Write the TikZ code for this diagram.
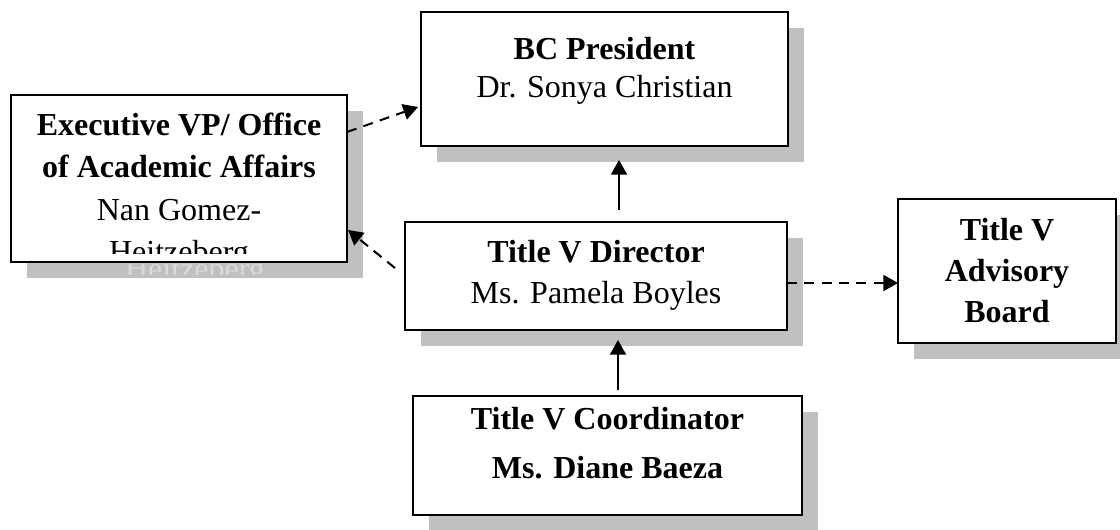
\documentclass[tikz,border=0pt]{standalone}
\usepackage{fontspec}
\setmainfont{Liberation Serif}
\usetikzlibrary{arrows.meta,shadows,calc}
\definecolor{shadowgray}{RGB}{192,192,192}
\definecolor{ghostgray}{RGB}{218,218,218}
\newcommand\boxtext[2]{\fontsize{24}{#1}\selectfont\begin{tabular}[t]{@{}c@{}}#2\end{tabular}}
\begin{document}
\begin{tikzpicture}[x=0.75pt,y=-0.75pt,
  orgbox/.style={draw=black,line width=1.5pt,fill=white,inner sep=0pt,outer sep=0pt,
     drop shadow={shadow xshift=12pt,shadow yshift=-12pt,fill=shadowgray,opacity=1}},
  txt/.style={inner sep=0pt,anchor=base},
  solidarrow/.style={line width=1.5pt,-{Triangle[length=11pt,width=12pt]}},
  dasharrow/.style={solidarrow,dash pattern=on 7.5pt off 5.5pt}]
\useasboundingbox (0,0) rectangle (1120,529);

% boxes
\node[orgbox,minimum width=252pt,minimum height=125.25pt] (exec) at (179,178.5) {};
\node[orgbox,minimum width=275.25pt,minimum height=100.5pt] (bc) at (604.5,79) {};
\node[orgbox,minimum width=286.5pt,minimum height=81pt] (dir) at (596,276) {};
\node[orgbox,minimum width=291.75pt,minimum height=89.25pt] (coord) at (607.5,455.5) {};
\node[orgbox,minimum width=163.5pt,minimum height=108pt] (adv) at (1007,271) {};

% texts
\begin{scope}
\clip (11,96) rectangle (347,253);
\node[txt] (exectext) at (179,135) {\boxtext{31.9pt}{\textbf{Executive VP/ Office}\\\textbf{of Academic Affairs}\\Nan Gomez-\\Heitzeberg}};
\end{scope}
\begin{scope}
\clip (27,264) rectangle (364,274);
\node[txt,text=ghostgray] (execghost) at (195,279) {\fontsize{24}{31.9}\selectfont Heitzeberg};
\end{scope}
\node[txt] (bctext) at (604.5,59) {\boxtext{28.5pt}{\textbf{BC President}\\Dr. Sonya Christian}};
\node[txt] (dirtext) at (596,262.5) {\boxtext{31.1pt}{\textbf{Title V Director}\\Ms. Pamela Boyles}};
\node[txt] (coordtext) at (607.5,429) {\boxtext{36.75pt}{\textbf{Title V Coordinator}\\\textbf{Ms. Diane Baeza}}};
\node[txt] (advtext) at (1007,240) {\boxtext{31.1pt}{\textbf{Title V}\\\textbf{Advisory}\\\textbf{Board}}};

% connectors
\draw[dasharrow] ($(exec.north east)+(0,37)$) -- ($(bc.south west)+(-3,-39)$);
\draw[dasharrow] ($(dir.west)+(-10,-8)$) -- ($(exec.south east)+(1,-32)$);
\draw[solidarrow] ($(dir.north)+(23,-12)$) -- ($(bc.south)+(14.5,14)$);
\draw[solidarrow] ($(coord.north)+(10.5,-6)$) -- ($(dir.south)+(22,10)$);
\draw[dasharrow] ($(dir.east)+(0,7)$) -- ($(adv.west)+(0,12)$);
\end{tikzpicture}
\end{document}
